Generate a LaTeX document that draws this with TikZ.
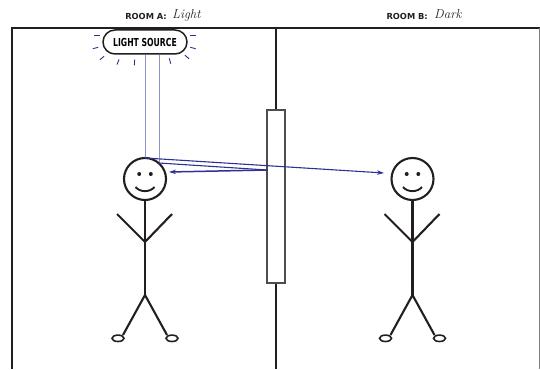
\documentclass[tikz,border=0pt]{standalone}
\usepackage{fontspec}
\newfontfamily\labelfont{DejaVu Sans}
\usetikzlibrary{arrows.meta,calc}
\definecolor{ink}{HTML}{231F20}
\definecolor{wallgray}{HTML}{4D4D4D}
\definecolor{beam}{HTML}{2E3192}
\definecolor{beamfaint}{HTML}{8F91CC}
\tikzset{
  frameline/.style={draw=ink, line width=2pt},
  wallline/.style={draw=ink, line width=2pt},
  windowbox/.style={draw=wallgray, line width=1.5pt, fill=white, minimum width=18pt, minimum height=173pt, inner sep=0pt},
  sourcebox/.style={draw=ink, line width=1.5pt, rounded corners=12pt, minimum width=84pt, minimum height=24pt, inner sep=0pt,
    font=\labelfont\bfseries\fontsize{11}{11}\selectfont},
  roomtitle/.style={inner sep=0pt, font=\labelfont\bfseries\fontsize{8.3}{9}\selectfont, text=ink},
  handword/.style={inner sep=0pt, font=\itshape\fontsize{13}{13}\selectfont, text=ink},
  raydash/.style={draw=beam, line width=0.9pt},
  faintbeam/.style={draw=beamfaint, line width=0.7pt},
  lightray/.style={draw=beam, line width=1.1pt},
  raytip/.style={-{Stealth[length=7pt,width=4.5pt]}},
  stickman/.pic={
    \draw[ink, line width=2.1pt] (0,0) circle (21);
    \fill[ink] (-5.8,-5) circle (2);
    \fill[ink] (5.8,-5) circle (2);
    \draw[ink, line width=1.9pt] (-9.5,8) .. controls (-5,13.5) and (5,13.5) .. (9.5,8);
    \draw[ink, line width=2.1pt] (0,21) -- (0,116);
    \draw[ink, line width=2.1pt] (-28,35) -- (0,63) -- (27,35);
    \draw[ink, line width=2.1pt] (-22,156) -- (0,116) -- (22,156);
    \draw[ink, line width=1.6pt] (-27,159.3) ellipse (6 and 3.2);
    \draw[ink, line width=1.6pt] (27,159.3) ellipse (6 and 3.2);
  }
}
\begin{document}
\begin{tikzpicture}[x=1pt,y=-1pt]
\useasboundingbox (0,0) rectangle (540,369);

% outer walls of the two rooms
\coordinate (tl) at (11.5,28.5);
\coordinate (tr) at (540,28.5);
\coordinate (bl) at (11.5,369);
\draw[frameline] (bl) -- (tl) -- (tr);
\draw[draw=gray, line width=1pt] (539.5,28.5) -- (539.5,369);

% room titles
\node[roomtitle, anchor=base east] (roomA) at (167,19.5) {ROOM A:};
\node[handword, anchor=base west] (roomAstate) at (172,18.5) {Light};
\node[roomtitle, anchor=base east] (roomB) at (428,19.5) {ROOM B:};
\node[handword, anchor=base west] (roomBstate) at (434,18.5) {Dark};

% dividing wall with a window in it
\node[windowbox] (win) at (276,196.5) {};
\coordinate (walltop) at (276,28.5);
\coordinate (wallbot) at (276,369);
\draw[wallline] (walltop) -- (win.north);
\draw[wallline] (win.south) -- (wallbot);

% light source and its glow
\node[sourcebox] (src) at (145,42) {\scalebox{0.7}[1]{LIGHT SOURCE}};
\foreach \px/\py/\ang in {97/35/180, 95.5/48/165, 102/58/140, 118/62/112, 134.5/62.5/92,
                         170/61/75, 187/57/40, 193/48/15, 193/35/0}
  \draw[raydash] (\px,\py) ++(\ang+180:2.8) -- ++(\ang:5.6);

% people in each room
\pic at (145,179) {stickman};
\pic at (412.5,179) {stickman};

% light paths
\coordinate (beamA) at (145,158);
\coordinate (beamB) at (159,163);
\coordinate (hit) at (267,170);
\coordinate (tipR) at (384,173);
\coordinate (tipL) at (169,172);
\draw[faintbeam] (src.south -| beamA) -- (beamA);
\draw[faintbeam] (src.south -| beamB) -- (beamB);
\draw[lightray, raytip] (beamA) -- (tipR);
\draw[lightray] (beamB) -- (hit);
\draw[lightray, line width=1.5pt, raytip] (hit) -- (tipL);
\end{tikzpicture}
\end{document}
